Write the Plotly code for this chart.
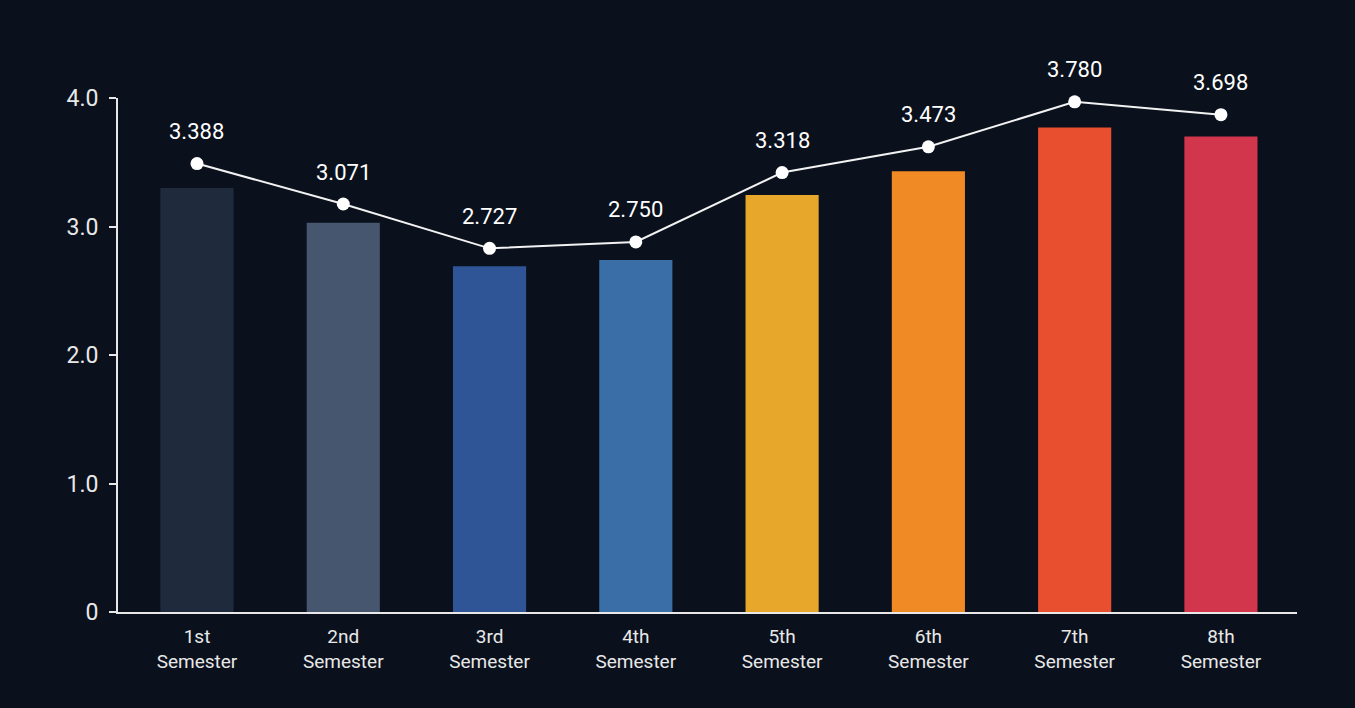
import plotly.graph_objects as go

# ── Data ──────────────────────────────────────────────────────────────────────
semesters   = ['1st<br>Semester', '2nd<br>Semester', '3rd<br>Semester', '4th<br>Semester',
               '5th<br>Semester', '6th<br>Semester', '7th<br>Semester', '8th<br>Semester']
bar_values  = [3.30, 3.03, 2.69, 2.74, 3.245, 3.43, 3.77, 3.70]
line_values = [3.49, 3.175, 2.83, 2.88, 3.42, 3.62, 3.97, 3.87]
line_labels = ['3.388', '3.071', '2.727', '2.750', '3.318', '3.473', '3.780', '3.698']
y_ticks     = [0, 1, 2, 3, 4]
y_ticktext  = ['0', '1.0', '2.0', '3.0', '4.0']

BAR_COLORS = ['#1f2b3d', '#45566e', '#2f5597', '#3a6ea6',
              '#e6a72a', '#ef8a25', '#e84f2e', '#d2364c']
BG = '#0a111d'
FONT = 'Roboto, Open Sans, sans-serif'

fig = go.Figure()

fig.add_trace(go.Bar(
    x=semesters, y=bar_values,
    marker=dict(color=BAR_COLORS, line=dict(width=0)),
    width=0.5,
    hoverinfo='skip',
    showlegend=False,
))

fig.add_trace(go.Scatter(
    x=semesters, y=line_values,
    mode='lines+markers',
    line=dict(color='#f2f2f2', width=2),
    marker=dict(size=13, color='white'),
    cliponaxis=False,
    showlegend=False,
))

# value labels sit a little above each marker
for cat, val, lab in zip(semesters, line_values, line_labels):
    fig.add_annotation(
        x=cat, y=val, text=lab, showarrow=False,
        yshift=32, font=dict(color='white', size=22, family=FONT),
    )

fig.update_layout(
    width=1355, height=708,
    margin=dict(l=118, r=58, t=98, b=96),
    paper_bgcolor=BG,
    plot_bgcolor=BG,
    font=dict(family=FONT, color='white'),
    bargap=0.5,
    xaxis=dict(
        showgrid=False, zeroline=False,
        showline=True, linecolor='#e8e8e8', linewidth=2,
        ticks='outside', ticklen=6, tickcolor='rgba(0,0,0,0)',
        tickfont=dict(size=19, color='#e8e8e8'),
        range=[-0.54, 7.52],
    ),
    yaxis=dict(
        range=[0, 4], showgrid=False, zeroline=False,
        showline=True, linecolor='#e8e8e8', linewidth=2,
        ticks='outside', ticklen=7, tickcolor='#e8e8e8', tickwidth=2,
        ticklabelstandoff=6,
        tickvals=y_ticks, ticktext=y_ticktext,
        tickfont=dict(size=23, color='#e8e8e8'),
    ),
)

fig.write_html(
    "out.html",
    config={'displayModeBar': False},
    post_script="document.body.style.margin='0';"
                "document.body.style.background='%s';" % BG,
)
